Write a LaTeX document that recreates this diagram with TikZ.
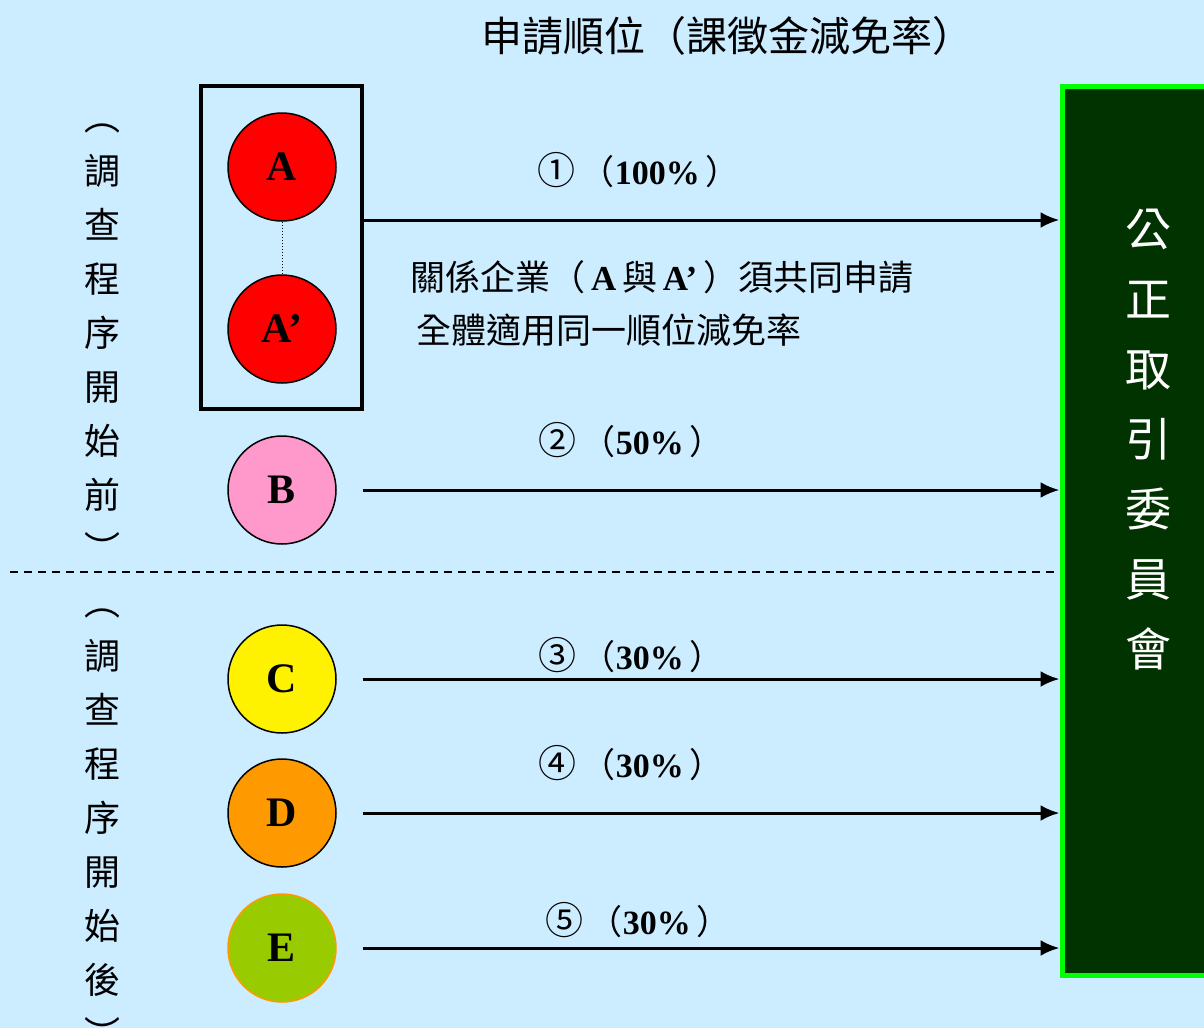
\documentclass[tikz,border=0pt]{standalone}
\usepackage{fontspec}
\setmainfont{Liberation Serif}
\newfontfamily\cjk{Noto Sans CJK TC}
\usepackage{tikz}
\usetikzlibrary{arrows.meta}
\definecolor{bgblue}{HTML}{CCECFF}
\definecolor{pinkA}{HTML}{FF99CC}
\definecolor{orangeD}{HTML}{FF9900}
\definecolor{greenE}{HTML}{99CC00}
\definecolor{ftcfill}{HTML}{003300}
\definecolor{ftcline}{HTML}{00FF00}

\begin{document}
\begin{tikzpicture}[x=1pt,y=-1pt]
        \tikzset{vertex/.style = {shape=circle,draw,line width=1.5pt,minimum size=108pt,inner sep=0pt,font=\fontsize{42}{42}\selectfont\bfseries}}
        \tikzset{edge/.style = {->,> = {Latex[length=19pt,width=16pt]},line width=3pt}}
        \tikzset{rate/.style = {anchor=west,inner sep=0pt,font=\fontsize{34}{34}\selectfont}}
        \tikzset{vtext/.style = {align=center,inner sep=0pt,font=\cjk\fontsize{36}{54}\selectfont}}
        \tikzset{note/.style = {anchor=west,inner sep=0pt,font=\cjk\fontsize{35}{35}\selectfont}}
        % background
        \useasboundingbox (0,0) rectangle (1204,1028);
        \fill[bgblue] (0,0) rectangle (1204,1028);
        \clip (0,0) rectangle (1204,1028);

        \node[font=\cjk\fontsize{41}{41}\selectfont] (title) at (727,36) {申請順位（課徵金減免率）};
        \node[vtext] (pre) at (102,343) {︵\\調\\查\\程\\序\\開\\始\\前\\︶};
        \node[vtext] (post) at (102,828) {︵\\調\\查\\程\\序\\開\\始\\後\\︶};

        % commission
        \node[draw=ftcline, fill=ftcfill, line width=5pt, minimum width=172pt, minimum height=889pt] (ftc) at (1148,530.5) {};
        \node[vtext, text=white, font=\cjk\fontsize{46}{70}\selectfont] (ftcname) at (1148,440) {公\\正\\取\\引\\委\\員\\會};

        % vertices
        \node[draw, line width=4pt, minimum width=161pt, minimum height=323pt] (grp) at (281.5,247.5) {};
        \node[vertex, fill=red] (a) at (282,167) {A};
        \node[vertex, fill=red] (a2) at (282,329) {A’};
        \node[vertex, fill=pinkA] (b) at (282,490) {B};
        \node[vertex, fill=yellow] (c) at (282,679) {C};
        \node[vertex, fill=orangeD] (d) at (282,813) {D};
        \node[vertex, fill=greenE, draw=orangeD] (e) at (282,948) {E};

        \draw[dotted, line width=1pt] (a) -- (a2);
        \draw[dashed, line width=1.5pt, dash pattern=on 8pt off 6pt] (10,572) -- (ftc.west |- 0,572);

        %edges
        \draw[edge] ([yshift=27.5pt]grp.east) -- ([yshift=27.5pt]grp.east -| ftc.west);
        \draw[edge] ([xshift=26pt]b.east) -- (b -| ftc.west);
        \draw[edge] ([xshift=26pt]c.east) -- (c -| ftc.west);
        \draw[edge] ([xshift=26pt]d.east) -- (d -| ftc.west);
        \draw[edge] ([xshift=26pt]e.east) -- (e -| ftc.west);

        % rates
        \node[rate] (r1) at (537,170) {{\cjk\fontsize{38}{38}\selectfont ①}\,{\cjk （}\textbf{100\%}\,{\cjk ）}};
        \node[rate] (r2) at (538,440) {{\cjk\fontsize{38}{38}\selectfont ②}\,{\cjk （}\textbf{50\%}\,{\cjk ）}};
        \node[rate] (r3) at (538,655) {{\cjk\fontsize{38}{38}\selectfont ③}\,{\cjk （}\textbf{30\%}\,{\cjk ）}};
        \node[rate] (r4) at (538,763) {{\cjk\fontsize{38}{38}\selectfont ④}\,{\cjk （}\textbf{30\%}\,{\cjk ）}};
        \node[rate] (r5) at (545,920) {{\cjk\fontsize{38}{38}\selectfont ⑤}\,{\cjk （}\textbf{30\%}\,{\cjk ）}};

        \node[note] (note1) at (410,277) {關係企業（\,\textbf{\rmfamily A}\,與\,\textbf{\rmfamily A’}\,）須共同申請};
        \node[note] (note2) at (416,330) {全體適用同一順位減免率};
\end{tikzpicture}
\end{document}
